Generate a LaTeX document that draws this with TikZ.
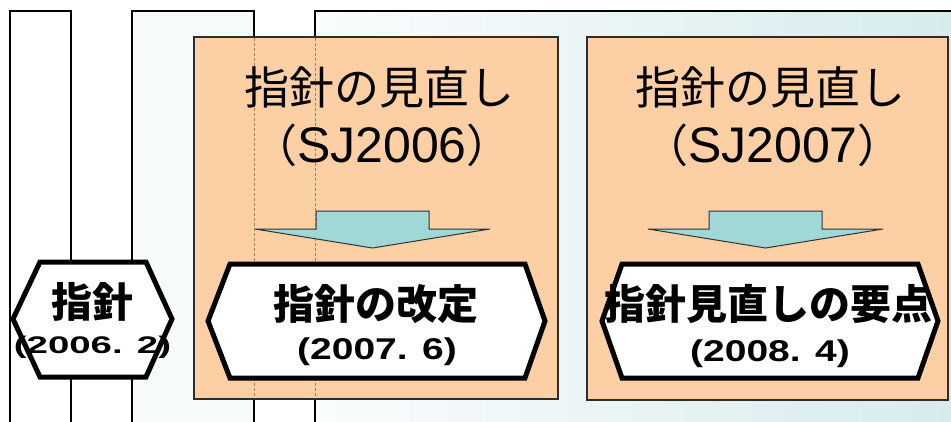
\documentclass[tikz,border=0pt]{standalone}
\usepackage{fontspec}
\usepackage{graphicx}
\setmainfont{Noto Sans CJK JP}
\newfontfamily\cjkf{Noto Sans CJK JP}
\newfontfamily\latf{Liberation Sans}
\definecolor{orfill}{RGB}{252,207,165}
\definecolor{cyfill}{RGB}{160,215,215}
\definecolor{bgL}{RGB}{250,252,253}
\definecolor{bgR}{RGB}{214,235,237}
\definecolor{rect2}{RGB}{247,250,251}
\definecolor{dashbrown}{RGB}{165,125,95}
\newcommand{\subtxt}[2]{\scalebox{#1}[1]{\latf\bfseries #2}}
\tikzset{
  tallrect/.style={draw=black, line width=2pt},
  orbox/.style={fill=orfill, draw={rgb,255:red,45;green,45;blue,45}, line width=1.6pt},
  dashline/.style={draw=dashbrown, line width=0.8pt, dash pattern=on 3pt off 2pt},
  blockarrow/.style={fill=cyfill, draw={rgb,255:red,50;green,50;blue,50}, line width=1pt, line join=miter},
  hexa/.style={fill=white, draw=black, line width=5pt, line join=miter},
  title/.style={font=\fontsize{45}{50}\selectfont, inner sep=0pt},
  titlelat/.style={font=\fontsize{45}{50}\selectfont, inner sep=0pt, anchor=base},
  hexmain/.style={font=\bfseries\fontsize{41}{46}\selectfont, inner sep=0pt},
  hexsub/.style={font=\fontsize{30}{34}\selectfont, inner sep=0pt, anchor=base},
  hexsubsmall/.style={font=\fontsize{24}{28}\selectfont, inner sep=0pt, anchor=base},
}
\begin{document}
\begin{tikzpicture}[x=1pt, y=-1pt]
\useasboundingbox (0,0) rectangle (951,421);
\fill[white] (0,0) rectangle (951,421);
% tall background rectangles
\path[left color=bgL, right color=bgR] (315,11) rectangle (960,430);
\draw[tallrect] (315,430) -- (315,11) -- (960,11);
\fill[rect2] (132,11) rectangle (254,430);
\draw[tallrect] (132,430) -- (132,11) -- (254,11) -- (254,430);
\draw[tallrect] (10,430) -- (10,11) -- (71,11) -- (71,430);
% orange boxes
\draw[orbox] (194,37) rectangle (558,399);
\draw[orbox] (587,37) rectangle (948,400);
\draw[dashline] (254,38) -- (254,398);
\draw[dashline] (315,38) -- (315,398);
% titles
\node[title] (t1a) at (379,87) {指針の見直し};
\node[titlelat] (t1b) at (382,162) {（{\latf\fontsize{50}{55}\selectfont SJ2006}）};
\node[title] (t2a) at (770,87) {指針の見直し};
\node[titlelat] (t2b) at (773,162) {（{\latf\fontsize{50}{55}\selectfont SJ2007}）};
% block arrows
\draw[blockarrow] (316,211) -- (429,211) -- (429,229) -- (490,229) -- (372.5,248) -- (255,229) -- (316,229) -- cycle;
\draw[blockarrow] (709,211) -- (822,211) -- (822,229) -- (883,229) -- (765.5,248) -- (648,229) -- (709,229) -- cycle;
% hexagons
\draw[hexa] (40,262) -- (146,262) -- (172,319) -- (146,377) -- (40,377) -- (13,319) -- cycle;
\draw[hexa] (230,264) -- (525,264) -- (545,321) -- (525,378) -- (230,378) -- (208,321) -- cycle;
\draw[hexa] (622,264) -- (918,264) -- (938,321) -- (918,378) -- (622,378) -- (602,321) -- cycle;
% hexagon texts
\node[hexmain] (h1a) at (92,302) {指針};
\node[hexsubsmall] (h1b) at (92.5,353) {\subtxt{1.6}{(2006. 2)}};
\node[hexmain] (h2a) at (376,304) {指針の改定};
\node[hexsub] (h2b) at (377,359) {\subtxt{1.3}{(2007. 6)}};
\node[hexmain] (h3a) at (768,304) {指針見直しの要点};
\node[hexsub] (h3b) at (770,361.5) {\subtxt{1.3}{(2008. 4)}};
\end{tikzpicture}
\end{document}
